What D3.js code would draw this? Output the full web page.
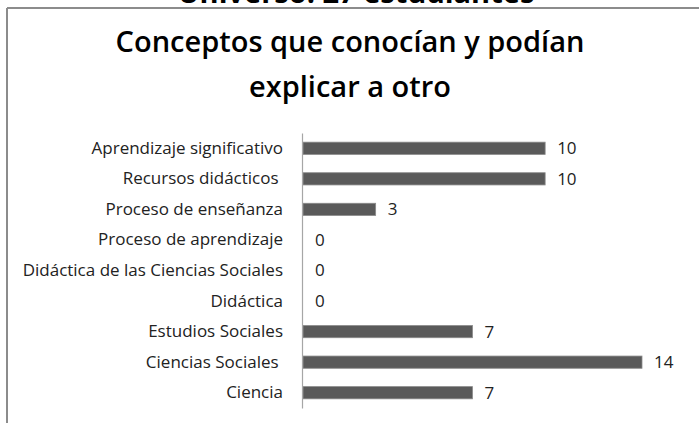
<!DOCTYPE html>
<html><head><meta charset="utf-8">
<script src="https://cdn.jsdelivr.net/npm/d3@7"></script>
<style>
html,body{margin:0;padding:0;background:#fff;}
svg{display:block;}
text{font-family:"Open Sans",Lato,sans-serif;}
</style></head>
<body><svg id="chart" width="699" height="423"></svg>
<script>
const categories = ["Aprendizaje significativo","Recursos didácticos ","Proceso de enseñanza","Proceso de aprendizaje","Didáctica de las Ciencias Sociales","Didáctica","Estudios Sociales","Ciencias Sociales ","Ciencia"];
const values = [10,10,3,0,0,0,7,14,7];
const titleLines = ["Conceptos que conocían y podían","explicar a otro"];
const topText = "Universo: 27 estudiantes";

const svg = d3.select("#chart");
const x = d3.scaleLinear().domain([0,14]).range([303,642]);
const y = d3.scaleBand().domain(categories).range([133,408]).paddingInner(0.6).paddingOuter(0.3);

// cut-off heading above frame
svg.append("text").attr("x",356).attr("y",3).attr("text-anchor","middle")
  .attr("font-size",29).attr("font-weight","bold").attr("fill","#000").text(topText);

// frame
svg.append("line").attr("x1",7).attr("x2",699).attr("y1",8).attr("y2",8).attr("stroke","#8c8c8c").attr("stroke-width",2);
svg.append("line").attr("x1",7).attr("x2",7).attr("y1",8).attr("y2",423).attr("stroke","#8c8c8c").attr("stroke-width",2);

// title
svg.selectAll("text.title").data(titleLines).join("text").attr("class","title")
  .attr("x",350).attr("y",(d,i)=>52+i*45).attr("text-anchor","middle")
  .attr("font-size",29).attr("font-weight",600).attr("fill","#000").text(d=>d);

// bars
svg.selectAll("rect.bar").data(values).join("rect").attr("class","bar")
  .attr("x",x(0)).attr("y",(d,i)=>y(categories[i]))
  .attr("width",d=>x(d)-x(0)).attr("height",y.bandwidth())
  .attr("fill","#5a5a5a").attr("stroke","#8a8a8a").attr("stroke-width",0.8);

// axis
const axis = d3.axisLeft(y).tickSize(0).tickPadding(19);
const g = svg.append("g").attr("transform",`translate(${x(0)-1},0)`).call(axis);
g.select(".domain").attr("stroke","#a6a6a6").attr("stroke-width",1.2);
g.selectAll(".tick text").attr("font-size",17).attr("fill","#222").attr("font-family","'Open Sans',sans-serif").style("white-space","pre").attr("xml:space","preserve");

// value labels
svg.selectAll("text.val").data(values).join("text").attr("class","val")
  .attr("x",d=>x(d)+12).attr("y",(d,i)=>y(categories[i])+y.bandwidth()/2)
  .attr("dy","0.35em").attr("font-size",17).attr("fill","#222").text(d=>d);
</script></body></html>
